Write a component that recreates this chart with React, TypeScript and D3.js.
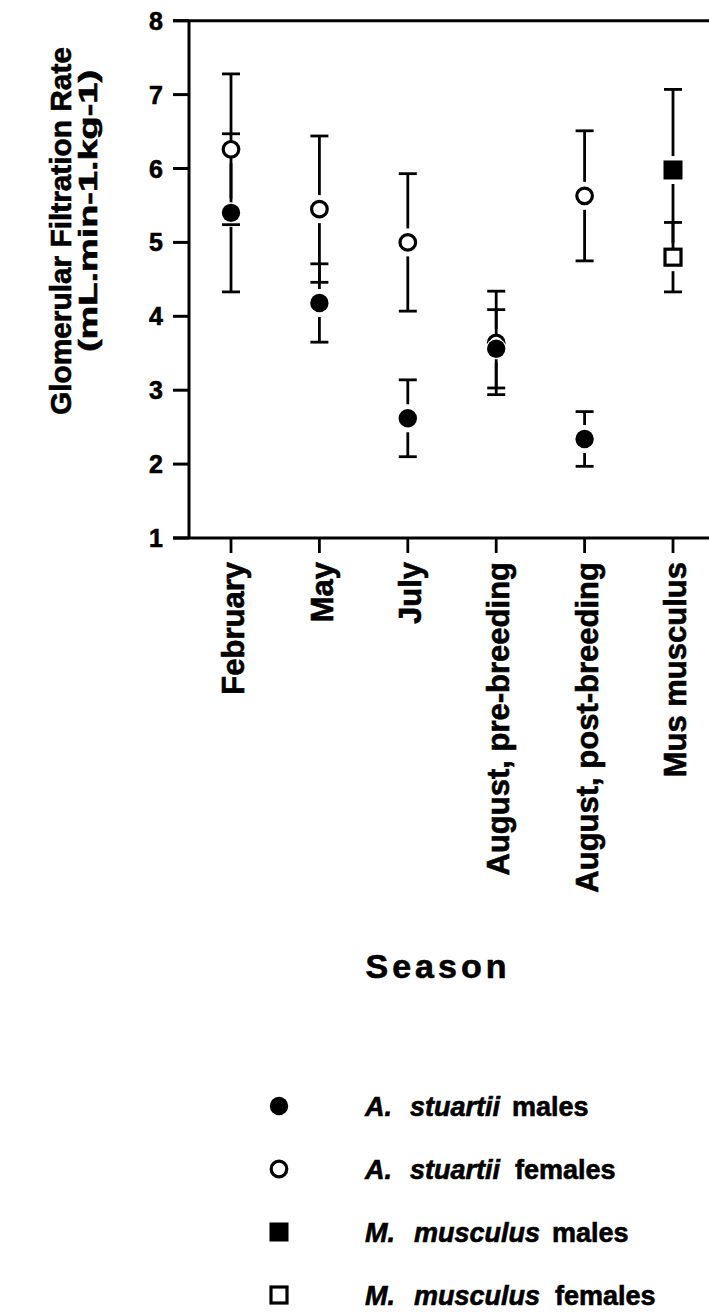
import React from "react";
import * as d3 from "d3";

// Glomerular filtration rate (mean ± SE) by season
const seasons = [
  "February",
  "May",
  "July",
  "August, pre-breeding",
  "August, post-breeding",
  "Mus musculus",
];
const stuartiiSeasons = seasons.slice(0, 5);
const stuartiiMaleMean = [5.4, 4.18, 2.62, 3.56, 2.34];
const stuartiiMaleSE = [1.07, 0.53, 0.52, 0.53, 0.37];
const stuartiiFemaleMean = [6.26, 5.45, 5.0, 3.64, 5.63];
const stuartiiFemaleSE = [1.02, 0.99, 0.93, 0.7, 0.88];
const musculusSeasons = ["Mus musculus"];
const musculusMaleMean = [5.98];
const musculusMaleSE = [1.09];
const musculusFemaleMean = [4.8];
const musculusFemaleSE = [0.47];
const yTicks = [1, 2, 3, 4, 5, 6, 7, 8];

const W = 709;
const H = 1312;
const FONT = "'Liberation Sans', Arial, Helvetica, sans-serif";

const axisX = 189;
const top = 20.7;
const bottom = 538;

const y = d3.scaleLinear().domain([1, 8]).range([bottom, top]);
const x = d3.scalePoint<string>().domain(seasons).range([231, 673]);

type Shape = "dot" | "circle" | "square" | "openSquare";

interface Series {
  key: string;
  cats: string[];
  mean: number[];
  se: number[];
  shape: Shape;
}

const series: Series[] = [
  { key: "asf", cats: stuartiiSeasons, mean: stuartiiFemaleMean, se: stuartiiFemaleSE, shape: "circle" },
  { key: "asm", cats: stuartiiSeasons, mean: stuartiiMaleMean, se: stuartiiMaleSE, shape: "dot" },
  { key: "mmm", cats: musculusSeasons, mean: musculusMaleMean, se: musculusMaleSE, shape: "square" },
  { key: "mmf", cats: musculusSeasons, mean: musculusFemaleMean, se: musculusFemaleSE, shape: "openSquare" },
];

const CAP = 9;
const GAP = 14;

// heavier type to suit the printed figure
const heavy = { stroke: "#000", strokeWidth: 0.6 };

function Marker({ shape, cx, cy }: { shape: Shape; cx: number; cy: number }) {
  if (shape === "dot")
    return (
      <g>
        <circle cx={cx} cy={cy} r={10.5} fill="#fff" />
        <circle cx={cx} cy={cy} r={9.2} fill="#000" />
      </g>
    );
  if (shape === "circle")
    return <circle cx={cx} cy={cy} r={7.8} fill="#fff" stroke="#000" strokeWidth={3.2} />;
  if (shape === "square")
    return <rect x={cx - 9.5} y={cy - 9.5} width={19} height={19} fill="#000" />;
  return (
    <rect x={cx - 8} y={cy - 8} width={16} height={16} fill="#fff" stroke="#000" strokeWidth={3.2} />
  );
}

function ErrorBar({ cx, mean, se }: { cx: number; mean: number; se: number }) {
  const cy = y(mean);
  const hi = y(mean + se);
  const lo = y(mean - se);
  return (
    <g stroke="#000" strokeWidth={2.8} fill="none">
      <line x1={cx} x2={cx} y1={cy - GAP} y2={hi} />
      <line x1={cx - CAP} x2={cx + CAP} y1={hi} y2={hi} />
      <line x1={cx} x2={cx} y1={cy + GAP} y2={lo} />
      <line x1={cx - CAP} x2={cx + CAP} y1={lo} y2={lo} />
    </g>
  );
}

const legendRows: { shape: Shape; genus: string; species: string; sex: string }[] = [
  { shape: "dot", genus: "A.", species: "stuartii", sex: "males" },
  { shape: "circle", genus: "A.", species: "stuartii", sex: "females" },
  { shape: "square", genus: "M.", species: "musculus", sex: "males" },
  { shape: "openSquare", genus: "M.", species: "musculus", sex: "females" },
];

export default function App() {
  return (
    <svg
      width={W}
      height={H}
      viewBox={`0 0 ${W} ${H}`}
      style={{ position: "absolute", left: 0, top: 0, background: "#fff" }}
      fontFamily={FONT}
    >
      <rect width={W} height={H} fill="#fff" />

      {/* frame: left axis, top and bottom rules */}
      <g stroke="#000" strokeWidth={3}>
        <line x1={axisX} x2={axisX} y1={top} y2={bottom} />
        <line x1={173} x2={W} y1={top} y2={top} />
        <line x1={173} x2={W} y1={bottom} y2={bottom} />
      </g>

      {/* y ticks */}
      {yTicks.map((t) => (
        <g key={t}>
          <line x1={173} x2={axisX} y1={y(t)} y2={y(t)} stroke="#000" strokeWidth={3} />
          <text
            x={163}
            y={y(t)}
            dy="0.36em"
            textAnchor="end"
            fontSize={25}
            fontWeight="bold"
            {...heavy}
          >
            {t}
          </text>
        </g>
      ))}

      {/* x ticks and category labels */}
      {seasons.map((s) => (
        <g key={s}>
          <line x1={x(s)} x2={x(s)} y1={bottom} y2={bottom + 15} stroke="#000" strokeWidth={2.8} />
          <text
            transform={`translate(${x(s)! + 2},${bottom + 24}) rotate(-90)`}
            textAnchor="end"
            dy="0.36em"
            fontSize={31}
            fontWeight="bold"
            {...heavy}
          >
            {s}
          </text>
        </g>
      ))}

      {/* y axis title */}
      <text
        transform="translate(71,231) rotate(-90)"
        textAnchor="middle"
        fontSize={30}
        fontWeight="bold"
        textLength={368}
        lengthAdjust="spacingAndGlyphs"
        {...heavy}
      >
        Glomerular Filtration Rate
      </text>
      <text
        transform="translate(97,211) rotate(-90)"
        textAnchor="middle"
        fontSize={25}
        fontWeight="bold"
        textLength={282}
        lengthAdjust="spacingAndGlyphs"
        {...heavy}
      >
        (mL.min-1.kg-1)
      </text>

      {/* error bars */}
      {series.map((sr) =>
        sr.cats.map((c, i) => (
          <ErrorBar key={sr.key + c} cx={x(c)!} mean={sr.mean[i]} se={sr.se[i]} />
        ))
      )}

      {/* markers */}
      {series.map((sr) =>
        sr.cats.map((c, i) => (
          <Marker key={sr.key + c} shape={sr.shape} cx={x(c)!} cy={y(sr.mean[i])} />
        ))
      )}

      {/* x axis title */}
      <text
        x={438}
        y={978}
        textAnchor="middle"
        fontSize={34}
        fontWeight="bold"
        letterSpacing={4}
        {...heavy}
      >
        Season
      </text>

      {/* legend */}
      {legendRows.map((r, i) => {
        const cy = 1106 + i * 63;
        return (
          <g key={i}>
            <Marker shape={r.shape} cx={279} cy={cy} />
            <text x={365} y={cy} dy="0.36em" fontSize={27} fontWeight="bold" {...heavy}>
              <tspan fontStyle="italic">{r.genus}</tspan>
              <tspan fontStyle="italic" dx={r.genus === "A." ? 18 : 19}>
                {r.species}
              </tspan>
              <tspan dx={r.sex === "males" ? 12 : 15}>{r.sex}</tspan>
            </text>
          </g>
        );
      })}
    </svg>
  );
}
